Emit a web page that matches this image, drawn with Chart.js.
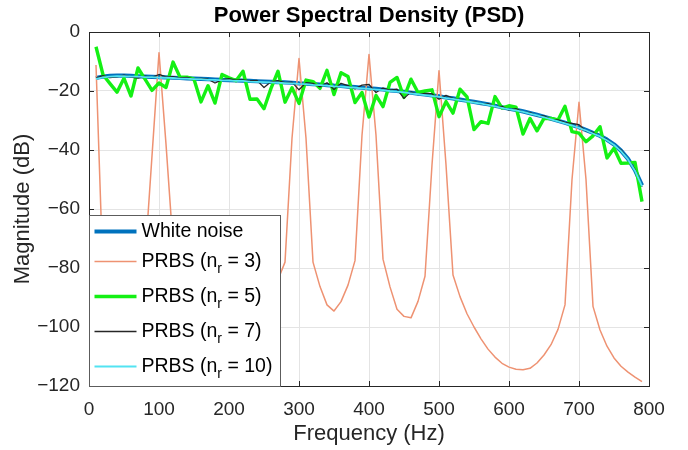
<!DOCTYPE html>
<html><head><meta charset="utf-8">
<script src="https://cdn.jsdelivr.net/npm/chart.js@4.4.1/dist/chart.umd.min.js"></script>
<style>html,body{margin:0;padding:0;background:#fff;}</style>
</head><body>
<canvas id="c" width="688" height="450"></canvas>
<script>
const freq = [10,20,30,40,50,60,70,80,90,100,110,120,130,140,150,160,170,180,190,200,
  210,220,230,240,250,260,270,280,290,300,310,320,330,340,350,360,370,380,390,400,
  410,420,430,440,450,460,470,480,490,500,510,520,530,540,550,560,570,580,590,600,
  610,620,630,640,650,660,670,680,690,700,710,720,730,740,750,760,770,780,790];

const whiteNoise = [-15.6,-15.1,-14.9,-14.8,-14.8,-14.9,-15.0,-15.1,-15.2,-15.3,-15.4,-15.5,-15.6,-15.7,-15.8,-15.9,-16.0,-16.1,-16.2,-16.3,
  -16.4,-16.5,-16.6,-16.7,-16.8,-16.9,-17.0,-17.1,-17.2,-17.4,-17.5,-17.7,-17.8,-18.0,-18.2,-18.3,-18.5,-18.7,-18.9,-19.1,
  -19.3,-19.5,-19.8,-20.0,-20.3,-20.6,-20.9,-21.2,-21.5,-21.8,-22.2,-22.5,-22.9,-23.3,-23.7,-24.1,-24.5,-25.0,-25.5,-26.0,
  -26.4,-26.9,-27.5,-28.1,-28.7,-29.4,-30.1,-30.8,-31.5,-32.3,-33.2,-34.2,-35.2,-36.5,-38.1,-40.2,-43.0,-46.8,-52.0];

const prbs3 = [-11.2,-82,-96,-103,-106,-104,-96,-77,-42,-7,-38,-72,-86,-94,-99,-103,-106,-108,-109,-109,
  -108,-106,-103,-99,-94,-89,-84,-78,-36,-9,-36,-78,-86.3,-92.5,-94.6,-91.4,-85.8,-77.5,-35,-7.6,
  -35,-77,-86.4,-94,-96.4,-96.9,-91.3,-82.8,-45,-13.1,-45,-82.4,-89.7,-95.5,-100,-104,-107.5,-110.2,-112.3,-113.6,
  -114.3,-114.5,-114,-112.2,-109.5,-106,-100.8,-92.5,-50,-23.8,-50,-93,-101,-106.5,-110.5,-113.3,-115.3,-117,-118.5];

const prbs5 = [-5,-14.5,-17.5,-20.4,-15.7,-21.7,-12.2,-16,-19.8,-17.3,-18.8,-10.2,-15.3,-15.3,-16,-23.7,-18.2,-24.1,-14.4,-15.5,
  -16.5,-13.3,-22.8,-22.7,-26,-19.1,-13.3,-23.8,-18.9,-24.2,-16.3,-16.8,-19.1,-13,-21.2,-13.8,-15.1,-23.9,-20.5,-28.8,
  -21.5,-25.3,-17.1,-15.4,-22.2,-16,-20.5,-20,-19.6,-28.7,-23.6,-27.5,-19.4,-22,-33.1,-30.4,-31,-21.9,-25.8,-25,
  -25.5,-34.6,-29.3,-33.5,-29.3,-29.3,-29.8,-25.2,-33.8,-34.3,-37.2,-35.2,-32.1,-42.7,-39.4,-44.5,-44.4,-44.2,-57.5];

const prbs7 = [-15.6,-14.8,-15.5,-15.2,-14.6,-15.3,-15.6,-15,-15.4,-14.4,-15.2,-15.1,-15.6,-15.4,-16,-15.7,-16,-17.3,-16.2,-15.8,
  -16.3,-16.2,-16.6,-16.4,-18.8,-16.9,-16.5,-17.2,-17,-19.6,-17.2,-17.4,-18.6,-17.2,-19.5,-17.4,-18.2,-19.3,-18,-17.8,
  -20.5,-19,-19.7,-19.4,-22.5,-20.3,-21.2,-20.8,-20.9,-22.8,-21.5,-22.5,-22.9,-23.5,-23.6,-24.4,-24.3,-25.3,-25.2,-26.5,
  -26,-27.2,-27.3,-28.4,-28.4,-29.7,-29.8,-30.6,-31,-31.4,-33.6,-34,-35.5,-36.4,-38.4,-40,-43.2,-46.6,-52.5];

const prbs10 = [-15.9,-15.4,-15.1,-15.0,-15.0,-15.1,-15.1,-15.3,-15.3,-15.5,-15.5,-15.6,-15.8,-15.8,-16.0,-16.0,-16.2,-16.2,-16.4,-16.4,
  -16.6,-16.6,-16.8,-16.9,-17.0,-17.1,-17.2,-17.3,-17.4,-17.6,-17.7,-17.9,-18.0,-18.2,-18.4,-18.5,-18.7,-18.9,-19.1,-19.3,
  -19.5,-19.7,-20.0,-20.2,-20.5,-20.8,-21.1,-21.4,-21.7,-22.0,-22.4,-22.7,-23.1,-23.5,-23.9,-24.3,-24.7,-25.2,-25.7,-26.2,
  -26.6,-27.1,-27.7,-28.3,-28.9,-29.6,-30.3,-31.0,-31.7,-32.5,-33.4,-34.4,-35.4,-36.7,-38.3,-40.4,-43.2,-47.0,-52.3];

const xTickValues = [0,100,200,300,400,500,600,700,800];
const xTickLabels = ['0','100','200','300','400','500','600','700','800'];
const yTickValues = [-120,-100,-80,-60,-40,-20,0];
const yTickLabels = ['\u2212120','\u2212100','\u221280','\u221260','\u221240','\u221220','0'];

const legendMain = ['White noise','PRBS (n','PRBS (n','PRBS (n','PRBS (n'];
const legendSub  = ['','r','r','r','r'];
const legendTail = ['',' = 3)',' = 5)',' = 7)',' = 10)'];

const FONT = "'Liberation Sans', Arial, Helvetica, sans-serif";
const pts = arr => freq.map((f, i) => ({x: f, y: arr[i]}));

const styles = [
  {color:'#0072BD', width:4.2},
  {color:'#EE9272', width:1.5},
  {color:'#14F014', width:3.4},
  {color:'#262626', width:1.3},
  {color:'#52E3F2', width:1.8}
];
const seriesData = [whiteNoise, prbs3, prbs5, prbs7, prbs10];
const datasets = seriesData.map((arr, i) => ({
  label: legendMain[i] + legendSub[i] + legendTail[i],
  data: pts(arr),
  borderColor: styles[i].color,
  borderWidth: styles[i].width,
  pointRadius: 0,
  tension: 0,
  fill: false,
  order: 5 - i,
  borderJoinStyle: 'round'
}));

const framePlugin = {
  id: 'frame',
  afterDatasetsDraw(chart) {
    const {ctx, chartArea: a, scales: {x, y}} = chart;
    ctx.save();
    ctx.strokeStyle = '#262626';
    ctx.lineWidth = 1;
    ctx.strokeRect(Math.round(a.left) + 0.5, Math.round(a.top) + 0.5, Math.round(a.right - a.left), Math.round(a.bottom - a.top));
    const tl = 5;
    ctx.beginPath();
    xTickValues.forEach(v => {
      const px = Math.round(x.getPixelForValue(v)) + 0.5;
      ctx.moveTo(px, a.top); ctx.lineTo(px, a.top + tl);
      ctx.moveTo(px, a.bottom); ctx.lineTo(px, a.bottom - tl);
    });
    yTickValues.forEach(v => {
      const py = Math.round(y.getPixelForValue(v)) + 0.5;
      ctx.moveTo(a.left, py); ctx.lineTo(a.left + tl, py);
      ctx.moveTo(a.right, py); ctx.lineTo(a.right - tl, py);
    });
    ctx.stroke();

    // legend box (bottom-left inside axes)
    const bx = Math.round(a.left) + 0.5, bw = 191;
    const bh = 171, by = Math.round(a.bottom) + 0.5 - bh;
    ctx.fillStyle = '#fff';
    ctx.fillRect(bx, by, bw, bh);
    ctx.strokeStyle = '#5c5c5c';
    ctx.strokeRect(bx, by, bw, bh);
    const rows = [by + 16, by + 46, by + 81, by + 116, by + 151];
    const fs = 19.5;
    rows.forEach((ry, i) => {
      ctx.strokeStyle = styles[i].color;
      ctx.lineWidth = styles[i].width;
      ctx.beginPath();
      ctx.moveTo(bx + 5, ry); ctx.lineTo(bx + 47, ry);
      ctx.stroke();
      ctx.fillStyle = '#000';
      ctx.textBaseline = 'middle';
      ctx.textAlign = 'left';
      ctx.font = fs + 'px ' + FONT;
      let tx = bx + 52;
      ctx.fillText(legendMain[i], tx, ry);
      tx += ctx.measureText(legendMain[i]).width;
      if (legendSub[i]) {
        ctx.font = '14px ' + FONT;
        ctx.fillText(legendSub[i], tx, ry + 8);
        tx += ctx.measureText(legendSub[i]).width;
        ctx.font = fs + 'px ' + FONT;
        ctx.fillText(legendTail[i], tx, ry);
      }
    });
    ctx.restore();
  }
};

new Chart(document.getElementById('c'), {
  type: 'line',
  data: { datasets },
  plugins: [framePlugin],
  options: {
    responsive: false,
    animation: false,
    devicePixelRatio: 1,
    layout: { padding: { left: 0, right: 39, top: 0, bottom: 0 } },
    plugins: {
      legend: { display: false },
      tooltip: { enabled: false },
      title: {
        display: true,
        fullSize: false,
        text: 'Power Spectral Density (PSD)',
        color: '#000',
        font: { family: FONT, size: 22, weight: 'bold', lineHeight: 1.2 },
        padding: { top: 3, bottom: 2.6 }
      }
    },
    scales: {
      x: {
        type: 'linear', min: 0, max: 800,
        afterFit(s) { s.height = 64; },
        afterBuildTicks(s) { s.ticks = xTickValues.map(v => ({value: v})); },
        ticks: {
          font: { family: FONT, size: 19 }, color: '#262626', padding: 12,
          maxRotation: 0, autoSkip: false,
          callback: v => xTickLabels[xTickValues.indexOf(v)]
        },
        grid: { color: '#e4e4e4', drawTicks: false, lineWidth: 1 },
        border: { display: false },
        title: {
          display: true, text: 'Frequency (Hz)', color: '#262626',
          font: { family: FONT, size: 22, lineHeight: 1.2 }, padding: { top: 0, bottom: 3 }
        }
      },
      y: {
        type: 'linear', min: -120, max: 0,
        afterFit(s) { s.width = 89; },
        afterBuildTicks(s) { s.ticks = yTickValues.map(v => ({value: v})); },
        ticks: {
          font: { family: FONT, size: 19 }, color: '#262626', padding: 9,
          callback: v => yTickLabels[yTickValues.indexOf(v)]
        },
        grid: { color: '#e4e4e4', drawTicks: false, lineWidth: 1 },
        border: { display: false },
        title: {
          display: true, text: 'Magnitude (dB)', color: '#262626',
          font: { family: FONT, size: 22, lineHeight: 1.2 }, padding: { top: 10, bottom: 0 }
        }
      }
    }
  }
});
</script>
</body></html>
